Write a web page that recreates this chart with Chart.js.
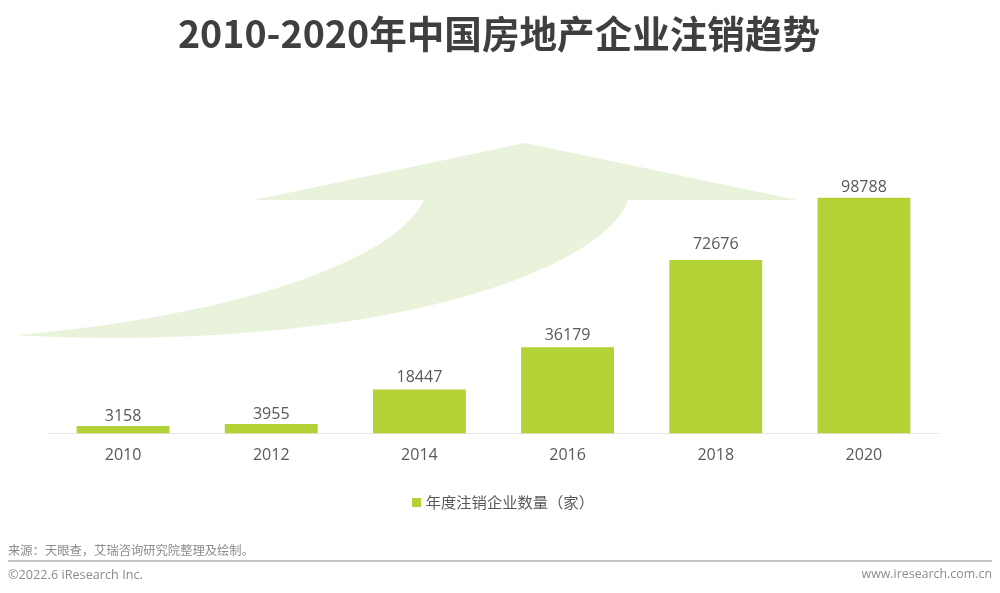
<!DOCTYPE html>
<html>
<head>
<meta charset="utf-8">
<script src="https://cdn.jsdelivr.net/npm/chart.js@4"></script>
<style>
    html, body { margin: 0; padding: 0; background: #fff; }
    body { position: relative; width: 1000px; height: 593px; overflow: hidden; font-family: "Noto Sans CJK SC", sans-serif; }
    #chart { position: absolute; left: 0; top: 0; }
    .note { position: absolute; white-space: nowrap; color: #8c8c8c; line-height: 16px; }
    #rule { position: absolute; left: 8px; right: 8px; top: 560px; height: 2px; background: #c4c4c4; }
</style>
</head>
<body>
<canvas id="chart" width="1000" height="593"></canvas>
<div class="note" style="left:8px;top:542px;font-size:12.3px;">来源：天眼查，艾瑞咨询研究院整理及绘制。</div>
<div id="rule"></div>
<div class="note" style="left:8px;top:565.5px;font-size:12.7px;font-family:'Open Sans';">©2022.6 iResearch Inc.</div>
<div class="note" style="right:8px;top:565.5px;font-size:12.4px;font-family:'Open Sans';">www.iresearch.com.cn</div>
<script>
const titleText = "2010-2020年中国房地产企业注销趋势";
const seriesName = "年度注销企业数量（家）";
const years = ["2010", "2012", "2014", "2016", "2018", "2020"];
const cancelled = [3158, 3955, 18447, 36179, 72676, 98788];

// pale arrow behind the bars
const arrowPlugin = {
    id: "arrow",
    beforeDatasetsDraw(chart) {
        const ctx = chart.ctx;
        ctx.save();
        ctx.fillStyle = "#e9f3db";
        ctx.beginPath();
        ctx.moveTo(525, 143);
        ctx.lineTo(797, 200);
        ctx.lineTo(628, 200);
        ctx.bezierCurveTo(610, 255, 450, 335, 122, 338);
        ctx.quadraticCurveTo(60, 338, 16, 335);
        ctx.bezierCurveTo(200, 320, 390, 270, 424, 200);
        ctx.lineTo(254, 200);
        ctx.closePath();
        ctx.fill();
        ctx.restore();
    }
};

// value above each bar, the labels are not all the same distance up
const barLabels = {
    id: "barLabels",
    afterDatasetsDraw(chart) {
        const ctx = chart.ctx;
        const lift = [2, 2, 4, 4, 8, 2];
        ctx.save();
        ctx.font = "16px 'Open Sans'";
        ctx.fillStyle = "#595959";
        ctx.textAlign = "center";
        ctx.textBaseline = "bottom";
        chart.getDatasetMeta(0).data.forEach(function (bar, i) {
            ctx.fillText(cancelled[i], bar.x, bar.y - lift[i]);
        });
        ctx.restore();
    }
};

// title and legend sit centred on the page, not on the padded plot
const recentre = {
    id: "recentre",
    afterLayout(chart) {
        chart.titleBlock.left += 5.5;
        chart.titleBlock.right += 5.5;
        chart.legend.left += 11;
        chart.legend.right += 11;
        chart.legend.top += 1;
        chart.legend.bottom += 1;
    }
};

// legend marker, a canvas so it can sit closer to its text
const marker = document.createElement("canvas");
marker.width = 9;
marker.height = 9;
const markerCtx = marker.getContext("2d");
markerCtx.fillStyle = "#b2d235";
markerCtx.fillRect(0, 0, 9, 9);

new Chart(document.getElementById("chart"), {
    type: "bar",
    data: {
        labels: years,
        datasets: [{
            label: seriesName,
            data: cancelled,
            backgroundColor: "#b2d235",
            categoryPercentage: 0.627,
            barPercentage: 1
        }]
    },
    plugins: [arrowPlugin, barLabels, recentre],
    options: {
        responsive: false,
        animation: false,
        layout: { padding: { left: 49, right: 62, top: 0, bottom: 74 } },
        scales: {
            x: {
                grid: { display: false, drawTicks: false },
                border: { color: "#e6e6e6", width: 1 },
                ticks: { color: "#595959", font: { family: "'Open Sans'", size: 16 }, padding: 12 },
                afterFit(scale) { scale.height += 13; }
            },
            y: { display: false, min: 0, max: 120000 }
        },
        plugins: {
            title: {
                display: true,
                text: titleText,
                color: "#3f3f3f",
                font: { family: "'Noto Sans CJK SC'", size: 37.6, weight: "bold" },
                padding: { top: 11, bottom: 91 }
            },
            legend: {
                position: "bottom",
                labels: {
                    color: "#595959",
                    font: { family: "'Noto Sans CJK SC'", size: 15.3 },
                    usePointStyle: true,
                    pointStyle: marker,
                    pointStyleWidth: 3,
                    boxHeight: 9,
                    padding: 4
                }
            },
            tooltip: { enabled: false }
        }
    }
});
</script>
</body>
</html>
